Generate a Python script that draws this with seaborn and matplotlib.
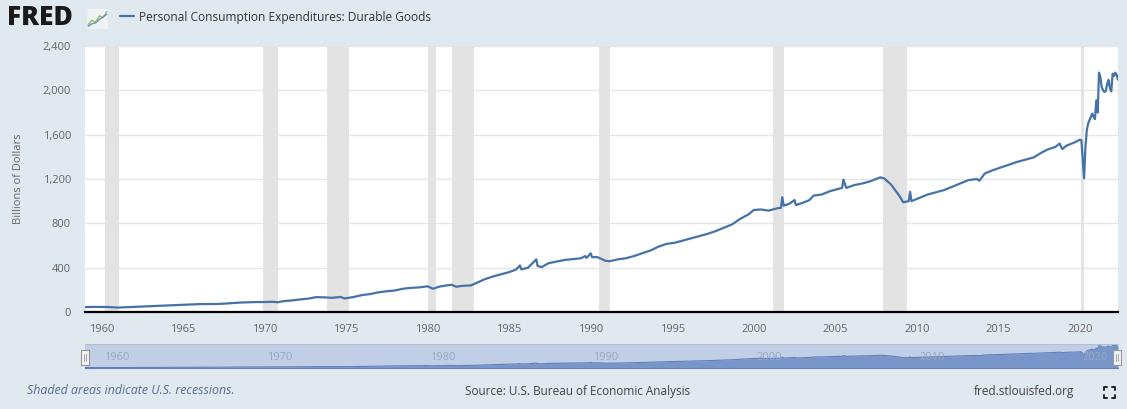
import pandas as pd
import numpy as np
import matplotlib
matplotlib.use('Agg')
import matplotlib.pyplot as plt
import matplotlib.dates as mdates
from matplotlib.ticker import FuncFormatter
from matplotlib.lines import Line2D
import seaborn as sns

# Series (billions of dollars, SAAR)
dates = ['1959-01', '1959-07', '1960-01', '1960-06', '1961-01', '1961-07', '1962-01', '1962-07',
         '1963-01', '1963-07', '1964-01', '1964-07', '1965-01', '1965-07', '1966-01', '1966-07',
         '1967-01', '1967-07', '1968-01', '1968-07', '1969-01', '1969-07', '1970-01', '1970-07',
         '1970-11', '1971-03', '1971-09', '1972-03', '1972-09', '1973-03', '1973-09', '1974-03',
         '1974-09', '1974-12', '1975-06', '1976-01', '1976-07', '1977-01', '1977-07', '1978-01',
         '1978-07', '1979-01', '1979-07', '1980-01', '1980-05', '1980-10', '1981-03', '1981-07',
         '1981-10', '1982-03', '1982-09', '1983-01', '1983-07', '1984-01', '1984-07', '1985-01',
         '1985-06', '1985-09', '1985-10', '1986-03', '1986-09', '1986-10', '1987-01', '1987-06',
         '1987-12', '1988-06', '1988-12', '1989-06', '1989-09', '1989-10', '1990-01', '1990-02',
         '1990-06', '1990-12', '1991-03', '1991-09', '1992-03', '1992-09', '1993-03', '1993-09',
         '1994-03', '1994-09', '1995-03', '1995-09', '1996-03', '1996-09', '1997-03', '1997-09',
         '1998-03', '1998-09', '1999-03', '1999-09', '2000-01', '2000-06', '2000-12', '2001-06',
         '2001-09', '2001-10', '2001-11', '2002-03', '2002-07', '2002-08', '2003-01', '2003-06',
         '2003-09', '2004-03', '2004-09', '2005-03', '2005-06', '2005-07', '2005-09', '2006-03',
         '2006-09', '2007-03', '2007-10', '2008-01', '2008-06', '2008-12', '2009-03', '2009-07',
         '2009-08', '2009-09', '2010-03', '2010-09', '2011-03', '2011-09', '2012-03', '2012-09',
         '2013-03', '2013-09', '2013-11', '2014-03', '2014-09', '2015-03', '2015-09', '2016-03',
         '2016-09', '2017-03', '2017-09', '2018-01', '2018-07', '2018-10', '2018-12', '2019-03',
         '2019-09', '2020-01', '2020-02', '2020-03', '2020-04', '2020-05', '2020-06', '2020-07',
         '2020-08', '2020-09', '2020-10', '2020-11', '2020-12', '2021-01', '2021-02', '2021-03',
         '2021-04', '2021-05', '2021-06', '2021-07', '2021-08', '2021-09', '2021-10', '2021-11',
         '2021-12', '2022-01', '2022-02', '2022-03', '2022-04', '2022-05']
values = [44, 46, 46, 45, 40, 43, 46, 49,
          52, 55, 58, 61, 65, 67, 71, 72,
          72, 75, 80, 85, 88, 90, 90, 92,
          88, 98, 104, 113, 120, 134, 132, 128,
          136, 122, 134, 153, 162, 178, 187, 194,
          210, 218, 222, 232, 210, 230, 240, 245,
          228, 236, 240, 262, 295, 320, 340, 360,
          382, 420, 385, 400, 475, 415, 405, 440,
          455, 470, 478, 485, 505, 488, 530, 495,
          495, 462, 458, 475, 485, 505, 530, 555,
          590, 615, 625, 645, 665, 685, 705, 730,
          760, 790, 840, 880, 920, 925, 915, 935,
          940, 1035, 960, 975, 1010, 965, 985, 1010,
          1050, 1060, 1090, 1110, 1120, 1195, 1120, 1145,
          1160, 1180, 1215, 1205, 1150, 1050, 990, 1000,
          1085, 1000, 1030, 1060, 1080, 1100, 1130, 1160,
          1190, 1200, 1185, 1250, 1280, 1305, 1330, 1355,
          1375, 1395, 1440, 1465, 1490, 1520, 1470, 1500,
          1530, 1555, 1550, 1380, 1206, 1480, 1640, 1700,
          1730, 1760, 1790, 1760, 1740, 1910, 1800, 2160,
          2120, 2030, 2000, 1985, 1995, 2060, 2095, 2020,
          1990, 2150, 2130, 2160, 2140, 2095]

# NBER recessions (peak, trough)
rec_start = ['1960-04', '1969-12', '1973-11', '1980-01', '1981-07', '1990-07', '2001-03', '2007-12', '2020-02']
rec_end = ['1961-02', '1970-11', '1975-03', '1980-07', '1982-11', '1991-03', '2001-11', '2009-06', '2020-04']

y_ticks = [0, 400, 800, 1200, 1600, 2000, 2400]
nav_years = [1960, 1970, 1980, 1990, 2000, 2010, 2020]

title = 'Personal Consumption Expenditures: Durable Goods'
bg = '#e1e9f0'
line_color = '#4572a7'

df = pd.DataFrame({'date': pd.to_datetime(dates), 'value': values})

sns.set_style('white')
plt.rcParams['font.family'] = ['Open Sans', 'DejaVu Sans']

W, H = 1127, 409
fig = plt.figure(figsize=(W / 100, H / 100), dpi=100, facecolor=bg)

# main chart
ax = fig.add_axes([85 / W, (H - 312) / H, (1118 - 85) / W, (312 - 46) / H])
ax.set_facecolor('white')
for s, e in zip(rec_start, rec_end):
    ax.axvspan(pd.Timestamp(s), pd.Timestamp(e), color='#e3e3e3', lw=0, zorder=1)
sns.lineplot(data=df, x='date', y='value', ax=ax, color=line_color, lw=1.6,
             label=title, legend=False, zorder=3)

ax.set_xlim(df['date'].min(), df['date'].max())
ax.set_ylim(0, 2400)
ax.set_yticks(y_ticks)
ax.yaxis.set_major_formatter(FuncFormatter(lambda v, p: f'{int(v):,}'))
ax.xaxis.set_major_locator(mdates.YearLocator(5))
ax.xaxis.set_major_formatter(mdates.DateFormatter('%Y'))
ax.grid(axis='y', color='#e6e6e6', lw=1, zorder=0)
ax.grid(axis='x', visible=False)
ax.set_axisbelow(True)
for side in ['top', 'right', 'left']:
    ax.spines[side].set_visible(False)
ax.spines['bottom'].set_color('black')
ax.spines['bottom'].set_linewidth(1.6)
ax.spines['bottom'].set_zorder(4)
ax.tick_params(axis='y', length=0, pad=10, labelsize=8, labelcolor='#666666')
ax.tick_params(axis='x', length=7, width=0.8, color='#ccd6eb', pad=2, labelsize=8, labelcolor='#666666')
ax.set_xlabel('')
ax.set_ylabel('')
fig.text(19 / W, (H - 179) / H, 'Billions of Dollars', rotation=90, ha='center', va='center',
         fontsize=8, color='#666666')

# legend / title
fig.legend(handles=[Line2D([], [], color=line_color, lw=1.6)], labels=[title],
           loc='center left', bbox_to_anchor=(109 / W, (H - 17) / H), frameon=False,
           handlelength=1.2, handletextpad=0.45, fontsize=8.6, labelcolor='#333333')

# FRED logo
fig.text(7 / W, (H - 18) / H, 'FRED', fontsize=19, fontweight='heavy', color='#1a1a1a',
         ha='left', va='center')
icon = fig.add_axes([87 / W, (H - 29) / H, 21 / W, 20 / H])
icon.set_facecolor('#eef2f2')
icon.plot([0, 1, 2, 3, 4, 5], [1, 2, 1.6, 3, 2.6, 4], color='#8fc06a', lw=1)
icon.plot([0, 1, 2, 3, 4, 5], [0.6, 1.2, 1.4, 2.2, 2.8, 3.4], color='#6f8fc0', lw=1)
icon.set_xlim(-0.3, 5.3)
icon.set_ylim(0, 4.6)
icon.set_xticks([])
icon.set_yticks([])
for sp in icon.spines.values():
    sp.set_visible(False)

# navigator
nav = fig.add_axes([85 / W, (H - 368) / H, (1118 - 85) / W, 24 / H])
nav.set_facecolor('#c0cee6')
nav.fill_between(df['date'], df['value'], color='#7896c9', lw=0)
nav.plot(df['date'], df['value'], color='#5f82bb', lw=0.8)
nav.set_xlim(df['date'].min(), df['date'].max())
nav.set_ylim(0, 2300)
nav.set_xticks([])
nav.set_yticks([])
for side, sp in nav.spines.items():
    sp.set_visible(side in ('top', 'bottom'))
    sp.set_color('#b5bfd0' if side == 'top' else '#6384bb')
    sp.set_linewidth(0.8)
for yr in nav_years:
    nav.text(pd.Timestamp(f'{yr}-01-01') + pd.Timedelta(days=60), 0.22, str(yr),
             transform=nav.get_xaxis_transform(), fontsize=8, color='#9aa7c0', va='bottom', ha='left')

# navigator handles
for hx in [85, 1117]:
    hax = fig.add_axes([(hx - 4) / W, (H - 365) / H, 8 / W, 15 / H])
    hax.set_facecolor('#f2f2f2')
    hax.set_xticks([])
    hax.set_yticks([])
    for sp in hax.spines.values():
        sp.set_color('#999999')
        sp.set_linewidth(0.8)
    hax.axvline(0.4, ymin=0.25, ymax=0.75, color='#999999', lw=0.6)
    hax.axvline(0.6, ymin=0.25, ymax=0.75, color='#999999', lw=0.6)

# footer
fig.text(27 / W, (H - 391) / H, 'Shaded areas indicate U.S. recessions.', fontsize=8.9,
         style='italic', color='#5a6e92', ha='left', va='center')
fig.text(578 / W, (H - 391) / H, 'Source: U.S. Bureau of Economic Analysis', fontsize=8.5,
         color='#444444', ha='center', va='center')
fig.text(1074 / W, (H - 391) / H, 'fred.stlouisfed.org', fontsize=8.5,
         color='#444444', ha='right', va='center')

# fullscreen icon
x0, x1, y0, y1, k = 1104, 1115, 387, 398, 3
for cx, cy, dx, dy in [(x0, y0, 1, 1), (x1, y0, -1, 1), (x0, y1, 1, -1), (x1, y1, -1, -1)]:
    fig.add_artist(Line2D([(cx + dx * k) / W, cx / W, cx / W],
                          [(H - cy) / H, (H - cy) / H, (H - cy - dy * k) / H],
                          color='#222222', lw=1.4, transform=fig.transFigure))

fig.savefig('out.png', dpi=100, facecolor=bg)
